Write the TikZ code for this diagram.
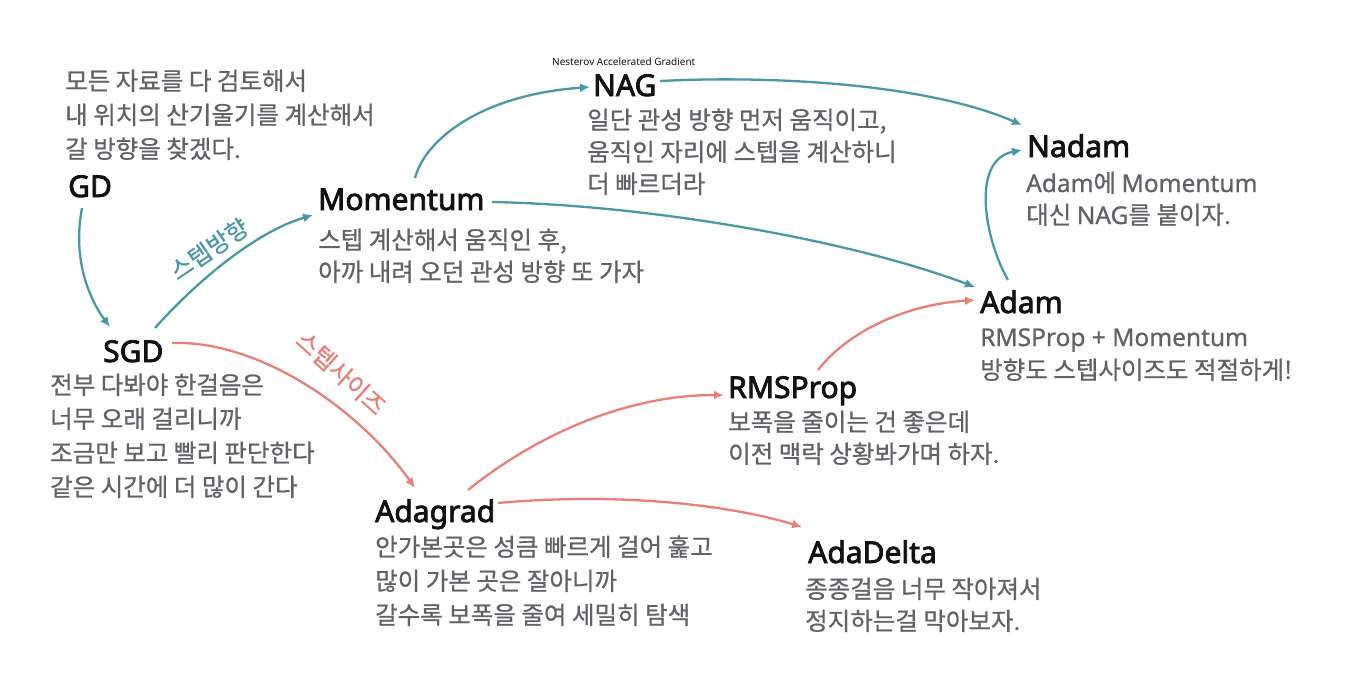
\documentclass[tikz,border=0pt]{standalone}
\usepackage{fontspec}
\setmainfont{Noto Sans CJK KR}[FakeBold=0.7]
\newfontfamily\latf{Noto Sans}[FakeBold=0.7]
\newfontfamily\titf{Noto Sans}[FakeBold=2.6]
\newfontfamily\smallf{Noto Sans}
\usetikzlibrary{arrows.meta,calc}
\definecolor{tealc}{RGB}{74,152,166}
\definecolor{redc}{RGB}{232,128,118}
\definecolor{descc}{RGB}{96,98,102}
\definecolor{titlec}{RGB}{17,17,17}
\newcommand{\lt}[1]{{\latf #1}}
\newcommand{\lines}[1]{\begin{tabular}[t]{@{}l@{}}#1\end{tabular}}
\begin{document}
\begin{tikzpicture}[x=1pt,y=-1pt,
  title/.style={anchor=base west, inner sep=0pt, text=titlec, font=\titf\fontsize{30}{33}\selectfont},
  descr/.style={anchor=base west, inner sep=0pt, text=descc, font=\fontsize{24.5}{#1}\selectfont},
  descr/.default=33,
  tarrow/.style={draw=tealc, line width=2.3pt, -{Latex[length=10pt,width=9pt]}},
  rarrow/.style={draw=redc, line width=2.3pt, -{Latex[length=10pt,width=9pt]}},
  elabel/.style={inner sep=0pt, font=\fontsize{24}{25}\selectfont}
]
\fill[white] (0,0) rectangle (1348,696);
\useasboundingbox (0,0) rectangle (1348,696);

% titles
\node[title] (GD) at (68,197) {GD};
\node[title] (SGD) at (103,362) {SGD};
\node[title] (Momentum) at (318,210) {Momentum};
\node[title] (NAG) at (593,96) {NAG};
\node[title] (Nadam) at (1027,157) {Nadam};
\node[title] (Adam) at (980,313) {Adam};
\node[title] (RMSProp) at (728,398) {RMSProp};
\node[title] (Adagrad) at (375,522) {Adagrad};
\node[title] (AdaDelta) at (808,563) {AdaDelta};

\node[anchor=base west, inner sep=0pt, text=titlec, font=\smallf\fontsize{10}{12}\selectfont] (nagfull) at (552,65) {Nesterov Accelerated Gradient};

% descriptions
\node[descr=34] (GDd) at (65,90) {\lines{모든 자료를 다 검토해서\\내 위치의 산기울기를 계산해서\\갈 방향을 찾겠다.}};
\node[descr=34] (SGDd) at (50,394) {\lines{전부 다봐야 한걸음은\\너무 오래 걸리니까\\조금만 보고 빨리 판단한다\\같은 시간에 더 많이 간다}};
\node[descr=32] (Momd) at (318,249) {\lines{스텝 계산해서 움직인 후,\\아까 내려 오던 관성 방향 또 가자}};
\node[descr=32] (NAGd) at (587,129) {\lines{일단 관성 방향 먼저 움직이고,\\움직인 자리에 스텝을 계산하니\\더 빠르더라}};
\node[descr=32] (Nadamd) at (1026,192) {\lines{\lt{Adam}에 \lt{Momentum}\\대신 \lt{NAG}를 붙이자.}};
\node[descr=33] (Adamd) at (980,346) {\lines{\lt{RMSProp + Momentum}\\방향도 스텝사이즈도 적절하게!}};
\node[descr=32] (RMSd) at (728,431) {\lines{보폭을 줄이는 건 좋은데\\이전 맥락 상황봐가며 하자.}};
\node[descr=34] (Adagradd) at (375,556) {\lines{안가본곳은 성큼 빠르게 걸어 훑고\\많이 가본 곳은 잘아니까\\갈수록 보폭을 줄여 세밀히 탐색}};
\node[descr=32] (AdaDeltad) at (805,598) {\lines{종종걸음 너무 작아져서\\정지하는걸 막아보자.}};

% connectors
\draw[tarrow] ($(GD.base west)+(14,11)$) .. controls (72,260) and (90,300) .. ($(SGD.base west)+(7,-35)$);
\draw[tarrow] ($(SGD.base west)+(52,-34)$) .. controls (195,283) and (255,232) .. ($(Momentum.base west)+(-5,5)$);
\draw[rarrow] ($(SGD.base west)+(69,-19)$) .. controls (260,340) and (360,410) .. ($(Adagrad.base west)+(40,-34)$);
\draw[tarrow] ($(Momentum.base west)+(97,-32)$) .. controls (425,140) and (480,95) .. ($(NAG.base west)+(-3,-9)$);
\draw[tarrow] ($(NAG.base west)+(67,-15)$) .. controls (780,75) and (930,85) .. ($(Nadam.base west)+(-5,-32)$);
\draw[tarrow] ($(Momentum.base west)+(174,-8)$) .. controls (650,205) and (850,240) .. ($(Adam.base west)+(-5,-26)$);
\draw[tarrow] ($(Adam.base west)+(28,-33)$) .. controls (985,240) and (970,160) .. ($(Nadam.base west)+(-5,-7)$);
\draw[rarrow] ($(RMSProp.base west)+(90,-28)$) .. controls (845,335) and (900,305) .. ($(Adam.base west)+(-5,-13)$);
\draw[rarrow] ($(Adagrad.base west)+(93,-32)$) .. controls (530,440) and (620,395) .. ($(RMSProp.base west)+(-4,-3)$);
\draw[rarrow] ($(Adagrad.base west)+(123,-19)$) .. controls (620,492) and (730,505) .. ($(AdaDelta.base west)+(-6,-36)$);

% edge labels
\node[elabel, text=tealc, rotate=34] (stepdir) at (209,249) {스텝방향};
\node[elabel, text=redc, rotate=-42] (stepsize) at (341,373) {스텝사이즈};
\end{tikzpicture}
\end{document}
